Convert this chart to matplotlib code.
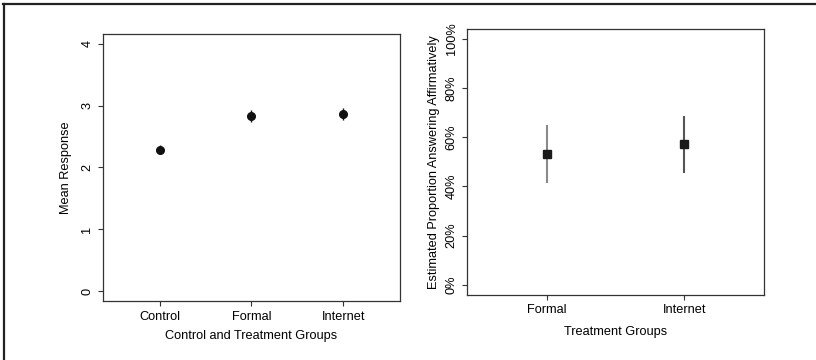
import numpy as np
import matplotlib.pyplot as plt
from matplotlib.lines import Line2D
from matplotlib.ticker import FuncFormatter

plt.rcParams['font.family'] = ['Liberation Sans', 'DejaVu Sans']

# left panel: mean response with error bars
groups = ['Control', 'Formal', 'Internet']
means = [2.29, 2.83, 2.86]
lo = [2.22, 2.73, 2.77]
hi = [2.36, 2.93, 2.96]

# right panel: estimated proportion answering affirmatively
treat = ['Formal', 'Internet']
prop = [0.531, 0.572]
prop_lo = [0.415, 0.455]
prop_hi = [0.647, 0.686]
bar_cols = ['#8a8a8a', '#555555']

fs = 9.2

fig = plt.figure(figsize=(8.16, 3.6), dpi=100)
fig.add_artist(Line2D([0.004, 1.0], [0.99, 0.99], color='#222222', lw=1.6))
fig.add_artist(Line2D([0.0055, 0.0055], [0.0, 0.99], color='#222222', lw=1.6))

def style(ax):
    for s in ax.spines.values():
        s.set_color('#333333')
        s.set_linewidth(0.9)
    ax.tick_params(direction='out', length=3.5, width=0.8, color='#333333',
                   labelsize=fs, pad=3.5)
    for lab in ax.get_yticklabels():
        lab.set_rotation(90)
        lab.set_va('center')

ax1 = fig.add_axes([0.1262, 0.1639, 0.364, 0.7417])
x1 = np.arange(1, len(groups) + 1)
ax1.vlines(x1, lo, hi, color='#111111', lw=1.0)
ax1.plot(x1, means, 'o', color='#111111', ms=5.5)
ax1.set_xlim(0.38, 3.62)
ax1.set_ylim(-0.16, 4.16)
ax1.set_xticks(x1)
ax1.set_xticklabels(groups)
ax1.set_yticks([0, 1, 2, 3, 4])
ax1.set_xlabel('Control and Treatment Groups', fontsize=fs, labelpad=5)
ax1.set_ylabel('Mean Response', fontsize=fs, labelpad=7)
style(ax1)

ax2 = fig.add_axes([0.5727, 0.1814, 0.3636, 0.7389])
x2 = np.arange(1, len(treat) + 1)
for i in range(len(treat)):
    ax2.vlines(x2[i], prop_lo[i], prop_hi[i], color=bar_cols[i], lw=1.5)
ax2.plot(x2, prop, 's', color='#1a1a1a', ms=5.5)
ax2.set_xlim(0.42, 2.58)
ax2.set_ylim(-0.04, 1.04)
ax2.set_xticks(x2)
ax2.set_xticklabels(treat)
ax2.set_yticks([0, 0.2, 0.4, 0.6, 0.8, 1.0])
ax2.yaxis.set_major_formatter(FuncFormatter(lambda v, p: '%d%%' % round(v * 100)))
ax2.set_xlabel('Treatment Groups', fontsize=fs, labelpad=7)
ax2.set_ylabel('Estimated Proportion Answering Affirmatively', fontsize=fs, labelpad=4)
style(ax2)

fig.savefig('out.png', dpi=100)
